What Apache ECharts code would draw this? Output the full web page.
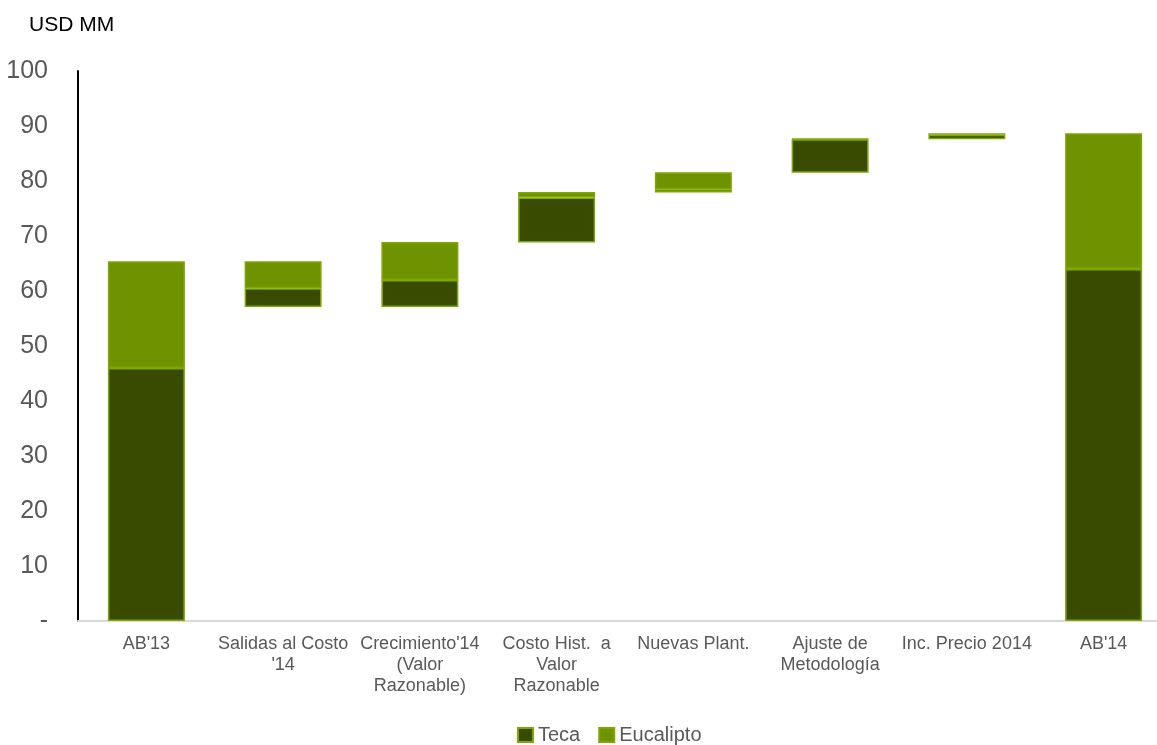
<!DOCTYPE html>
<html>
	<head>
		<meta charset="utf-8">
		<title>Activos biológicos</title>
	</head>
	<body style="margin:0;overflow:hidden;">
		<!-- un poco más ancho que la ventana: la última barra queda junto al borde -->
		<div id="container" style="width: 1172px;height:745px;"></div>
	</body>
	<script src="https://cdn.jsdelivr.net/npm/echarts@6/dist/echarts.min.js"></script>
	<script type="text/javascript">
		'use strict'
		// categorías del eje X
		var categories = ["AB'13", "Salidas al Costo\n'14", "Crecimiento'14\n(Valor\nRazonable)", "Costo Hist.  a\nValor\nRazonable", "Nuevas Plant.", "Ajuste de\nMetodología", "Inc. Precio 2014", "AB'14"];
		// base invisible de la cascada
		var baseValues = [0, 57.1, 57.1, 68.8, 77.9, 81.5, 87.6, 0];
		var tecaValues = [46.0, 3.4, 4.9, 8.2, 0.6, 6.1, 0.8, 64.0];
		var eucaliptoValues = [19.4, 4.9, 6.9, 1.0, 3.1, 0.1, 0.3, 24.7];

		var tecaColor = '#394b00';
		var eucaliptoColor = '#6f9300';
		var borderColor = '#7ea700';

		var myCharts = echarts.init(document.getElementById('container'));
		var option = {
			animation: false,
			title: {
				text: 'USD MM',
				left: 24,
				top: 10,
				textStyle: {
					fontFamily: 'Liberation Sans',
					fontSize: 21,
					fontWeight: 'normal',
					color: '#000'
				}
			},
			legend: {
				data: ['Teca', 'Eucalipto'],
				icon: 'rect',
				bottom: -5,
				left: 512,
				itemWidth: 15,
				itemHeight: 14,
				itemGap: 18,
				textStyle: {
					fontFamily: 'Liberation Sans',
					fontSize: 20,
					color: '#595959'
				}
			},
			grid: {
				left: 78,
				right: 0,
				top: 71,
				bottom: 124
			},
			xAxis: {
				type: 'category',
				data: categories,
				axisLine: {
					lineStyle: { color: '#d9d9d9', width: 2 }
				},
				axisTick: { show: false },
				axisLabel: {
					interval: 0,
					margin: 13,
					lineHeight: 21,
					fontFamily: 'Liberation Sans',
					fontSize: 18,
					color: '#595959'
				}
			},
			yAxis: {
				type: 'value',
				min: 0,
				max: 100,
				interval: 10,
				splitLine: { show: false },
				axisTick: { show: false },
				axisLine: {
					show: true,
					lineStyle: { color: '#000', width: 2 }
				},
				axisLabel: {
					margin: 30,
					fontFamily: 'Liberation Sans',
					fontSize: 25,
					color: '#595959',
					formatter: function(v) {
						return v === 0 ? '-' : v;
					}
				}
			},
			series: [
				{
					name: 'base',
					type: 'bar',
					stack: 'total',
					barWidth: 77,
					data: baseValues,
					itemStyle: { color: 'transparent' },
					silent: true
				},
				{
					name: 'Teca',
					type: 'bar',
					stack: 'total',
					barWidth: 77,
					data: tecaValues,
					itemStyle: {
						color: tecaColor,
						borderColor: borderColor,
						borderWidth: 1.5
					}
				},
				{
					name: 'Eucalipto',
					type: 'bar',
					stack: 'total',
					barWidth: 77,
					data: eucaliptoValues,
					itemStyle: {
						color: eucaliptoColor,
						borderColor: borderColor,
						borderWidth: 1.5
					}
				}
			]
		};
		myCharts.setOption(option);
	</script>
</html>
